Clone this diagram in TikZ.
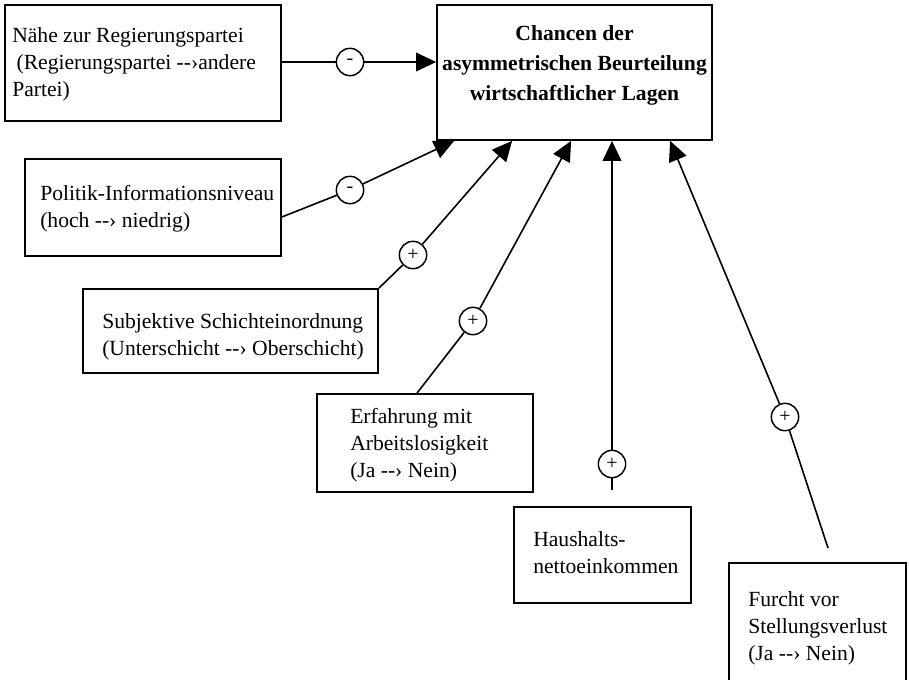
\documentclass[tikz,border=0pt]{standalone}
\usepackage{fontspec}
\setmainfont{Liberation Serif}
\usetikzlibrary{arrows.meta}
\newcommand{\darr}{-{}-›}
\begin{document}
\begin{tikzpicture}[x=0.75pt,y=-0.75pt,
  box/.style={draw, line width=1.35pt, rectangle, inner sep=0pt},
  txt/.style={inner sep=0pt, align=left, anchor=west, font=\fontsize{16.2}{20.25}\selectfont},
  headtxt/.style={inner sep=0pt, align=center, anchor=center, font=\fontsize{16.2}{22.5}\selectfont\bfseries},
  sign/.style={draw, circle, line width=1.1pt, minimum size=20.5pt, inner sep=0pt, font=\fontsize{15}{15}\selectfont},
  link/.style={line width=1.2pt},
  arr/.style={link, -{Triangle[length=15pt,width=14pt]}}]
\clip (0,0) rectangle (909,679);
% boxes
\node[box, minimum width=206.25pt, minimum height=101.25pt] (main) at (574.5,72.5) {};
\node[headtxt] (maintext) at (574.5,65) {Chancen der\\asymmetrischen Beurteilung\\wirtschaftlicher Lagen};
\node[box, minimum width=207pt, minimum height=87pt] (b1) at (143,63) {};
\node[txt] (t1) at (12,64) {Nähe zur Regierungspartei\\\hspace*{0.2em}(Regierungspartei \darr andere\\Partei)};
\node[box, minimum width=192pt, minimum height=72.75pt] (b2) at (153,207.5) {};
\node[txt] (t2) at (40,209) {Politik-Informationsniveau\\(hoch \darr{} niedrig)};
\node[box, minimum width=221.25pt, minimum height=63pt] (b3) at (230.5,331) {};
\node[txt] (t3) at (102,337) {Subjektive Schichteinordnung\\(Unterschicht \darr{} Oberschicht)};
\node[box, minimum width=162pt, minimum height=73.5pt] (b4) at (425,443) {};
\node[txt] (t4) at (350,445) {Erfahrung mit\\Arbeitslosigkeit\\(Ja \darr{} Nein)};
\node[box, minimum width=132.75pt, minimum height=72pt] (b5) at (602.5,555) {};
\node[txt] (t5) at (533,553) {Haushalts-\\nettoeinkommen};
\node[box, minimum width=132.75pt, minimum height=99pt] (b6) at (817.5,629) {};
\node[txt] (t6) at (748,628) {Furcht vor\\Stellungsverlust\\(Ja \darr{} Nein)};
% signs
\node[sign] (c1) at (350,62) {-};
\node[sign] (c2) at (350,190) {-};
\node[sign] (c3) at (413,255) {+};
\node[sign] (c4) at (473,321) {+};
\node[sign] (c5) at (612,464) {+};
\node[sign] (c6) at (785,417) {+};
% anchor points
\coordinate (m2) at ([xshift=13.5pt]main.south west);
\coordinate (m3) at ([xshift=57pt]main.south west);
\coordinate (m4) at ([xshift=101.25pt]main.south west);
\coordinate (m5) at (c5 |- main.south);
\coordinate (m6) at ([xshift=175.5pt]main.south west);
\coordinate (s2) at ([yshift=-7.1pt]b2.east);
\coordinate (s4) at ([xshift=-6pt]b4.north);
\coordinate (e5) at (612,490);
\coordinate (e6) at (828,548);
% connectors
\draw[link] (b1.east |- c1) -- (c1);
\draw[arr] (c1) -- (main.west |- c1);
\draw[link] (s2) -- (c2);
\draw[arr] (c2) -- (m2);
\draw[link] (b3.north east) -- (c3);
\draw[arr] (c3) -- (m3);
\draw[link] (s4) -- (c4);
\draw[arr] (c4) -- (m4);
\draw[link] (e5) -- (c5);
\draw[arr] (c5) -- (m5);
\draw[link] (e6) -- (c6);
\draw[arr] (c6) -- (m6);
\end{tikzpicture}
\end{document}
